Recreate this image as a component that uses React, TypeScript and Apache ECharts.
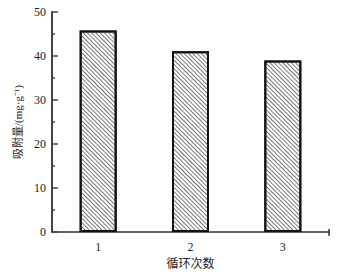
import React, { useEffect, useRef } from "react";
import * as echarts from "echarts";

const categories = ["1", "2", "3"];
const adsorption = [45.8, 41.1, 39.0];
const yTitle = "吸附量/(mg·g⁻¹)";
const xTitle = "循环次数";

export default function App() {
  const ref = useRef<HTMLDivElement>(null);
  useEffect(() => {
    const chart = echarts.init(ref.current!, null, { renderer: "svg" });
    const font = "'Liberation Serif', 'Times New Roman', serif";
    const mixed = "'Liberation Serif', 'Noto Sans CJK SC', serif";
    chart.setOption({
      animation: false,
      backgroundColor: "#fff",
      textStyle: { fontFamily: font },
      grid: { left: 52, right: 27, top: 12, bottom: 39 },
      xAxis: {
        type: "category",
        data: categories,
        boundaryGap: true,
        name: xTitle,
        nameLocation: "middle",
        nameGap: 26,
        nameTextStyle: { fontFamily: mixed, fontSize: 12, color: "#222" },
        axisLine: { lineStyle: { color: "#333", width: 1.5 } },
        axisTick: { show: false },
        axisLabel: { color: "#222", fontSize: 12, margin: 9, fontFamily: font },
      },
      yAxis: {
        type: "value",
        min: 0,
        max: 50,
        interval: 10,
        name: yTitle,
        nameLocation: "middle",
        nameGap: 27,
        nameTextStyle: { fontFamily: mixed, fontSize: 11, color: "#222" },
        axisLine: { show: true, lineStyle: { color: "#444", width: 2 } },
        axisTick: { show: true, inside: true, length: 6, lineStyle: { color: "#444", width: 1.5 } },
        minorTick: { show: true, splitNumber: 2, length: 3, lineStyle: { color: "#444", width: 1.5 } },
        splitLine: { show: false },
        axisLabel: { color: "#222", fontSize: 12, margin: 6, fontFamily: font },
      },
      graphic: [
        { type: "line", shape: { x1: 329, y1: 236, x2: 329, y2: 229 }, style: { stroke: "#333", lineWidth: 1.5 } },
      ],
      series: [
        {
          type: "bar",
          data: adsorption,
          barWidth: 37,
          itemStyle: {
            color: "#fff",
            borderColor: "#111",
            borderWidth: 2,
            decal: {
              symbol: "rect",
              symbolSize: 1,
              dashArrayX: [1, 0],
              dashArrayY: [1, 2],
              rotation: Math.PI / 4,
              color: "#777",
            },
          },
        },
      ],
    });
    return () => chart.dispose();
  }, []);
  return (
    <div
      ref={ref}
      style={{ position: "fixed", left: 0, top: 0, width: 356, height: 275 }}
    />
  );
}
